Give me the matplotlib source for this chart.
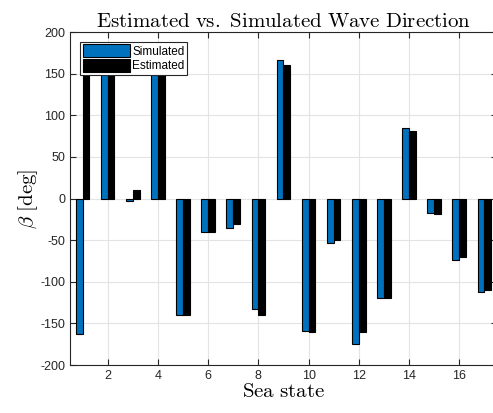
import numpy as np
import matplotlib
matplotlib.use('Agg')
import matplotlib.pyplot as plt

plt.rcParams['mathtext.fontset'] = 'cm'
plt.rcParams['font.family'] = ['Liberation Sans', 'DejaVu Sans']
plt.rcParams['axes.unicode_minus'] = False

sea_state = np.arange(1, 18)
simulated = [-163, 165, -3, 175, -140, -40, -35, -133, 166,
             -159, -53, -175, -119, 85, -17, -74, -112]
estimated = [170, 160, 10, 170, -140, -40, -30, -140, 161,
             -160, -50, -160, -120, 81, -19, -70, -110]

fig = plt.figure(figsize=(4.93, 4.13), dpi=100)
ax = fig.add_axes([0.142, 0.116, 0.866, 0.8063])

w = 0.27
ax.bar(sea_state - w / 2, simulated, w, color='#0072BD', edgecolor='black',
       linewidth=0.8, label='Simulated', zorder=3)
ax.bar(sea_state + w / 2, estimated, w, color='black', edgecolor='black',
       linewidth=0.8, label='Estimated', zorder=3)

ax.set_xlim(0.5, 17.5)
ax.set_ylim(-200, 200)
ax.set_xticks(np.arange(2, 17, 2))
ax.set_yticks(np.arange(-200, 201, 50))
ax.grid(True, color='#e3e3e3', linewidth=0.8, zorder=0)
ax.tick_params(direction='in', top=True, right=True, labelsize=9,
               colors='#262626', length=4, width=0.8)
for s in ax.spines.values():
    s.set_color('#262626')
    s.set_linewidth(0.8)

ax.set_title(r'$\mathrm{Estimated\ vs.\ Simulated\ Wave\ Direction}$',
             fontsize=15, pad=4)
ax.set_xlabel(r'$\mathrm{Sea\ state}$', fontsize=15, labelpad=0)
ax.set_ylabel(r'$\beta\ \mathrm{[deg]}$', fontsize=15, labelpad=0)

leg = ax.legend(loc='upper left', bbox_to_anchor=(0.024, 0.97), fontsize=8.5,
                fancybox=False, framealpha=1, edgecolor='#262626',
                handlelength=4.0, handleheight=1.3, handletextpad=0.2,
                borderpad=0.2, labelspacing=0.1, borderaxespad=0)
leg.get_frame().set_linewidth(0.8)

fig.savefig('out.png', dpi=100)
